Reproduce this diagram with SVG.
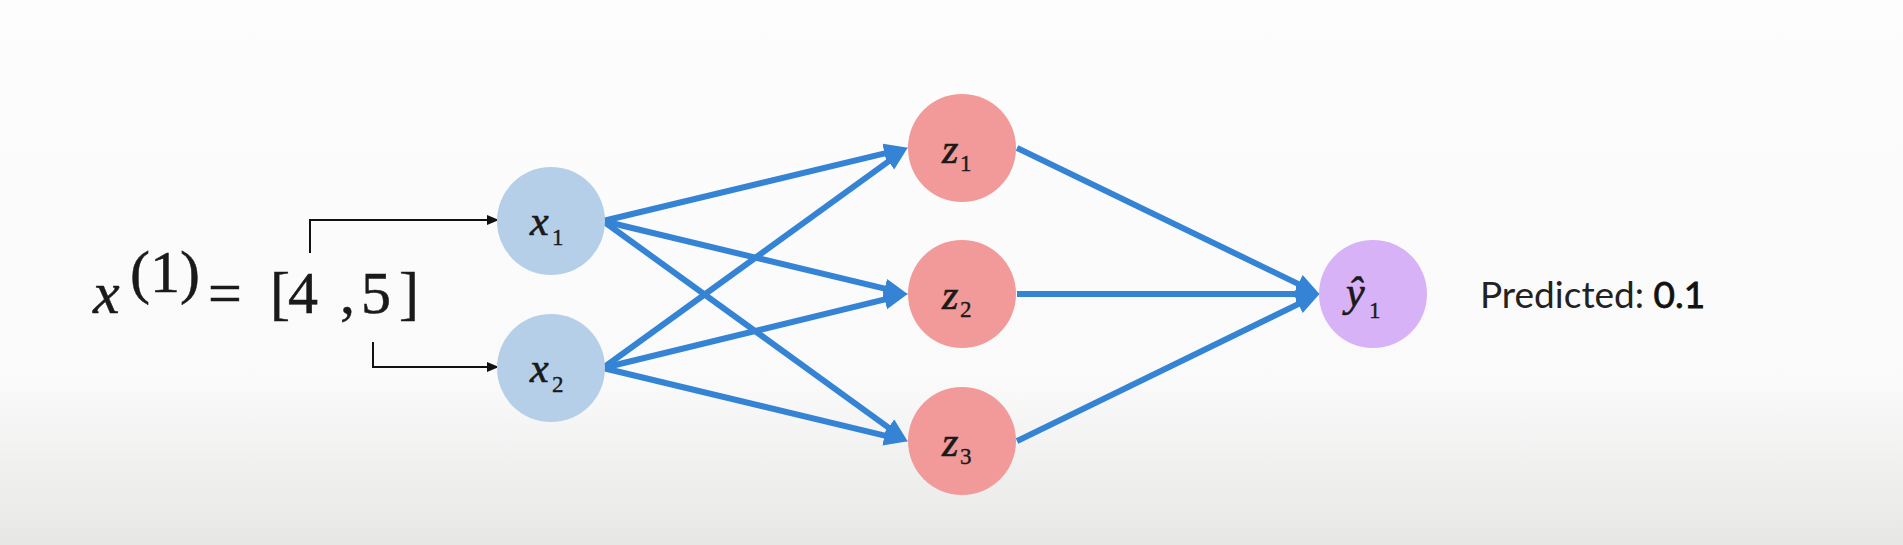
<svg xmlns="http://www.w3.org/2000/svg" width="1903" height="545" viewBox="0 0 1903 545">
<defs>
<linearGradient id="bg" x1="0" y1="0" x2="0" y2="545" gradientUnits="userSpaceOnUse">
<stop offset="0" stop-color="#fcfdfc"/>
<stop offset="0.7" stop-color="#f9faf9"/>
<stop offset="1" stop-color="#e7e8e6"/>
</linearGradient>
<marker id="ab" markerUnits="userSpaceOnUse" markerWidth="26" markerHeight="22" refX="13" refY="10" orient="auto">
<path d="M0,0 L24,10 L0,20 z" fill="#3583d4"/>
</marker>
<marker id="ak" markerUnits="userSpaceOnUse" markerWidth="14" markerHeight="12" refX="4" refY="5" orient="auto">
<path d="M0,0 L12,5 L0,10 z" fill="#111"/>
</marker>
</defs>
<style>
.edge{stroke:#3583d4;stroke-width:6;fill:none;marker-end:url(#ab)}
.feed{stroke:#111;stroke-width:2;fill:none;marker-end:url(#ak)}
.xn{fill:#b5cfe9}
.zn{fill:#f19a99}
.yn{fill:#d8b2f6}
.lab{font-family:"Liberation Serif",serif;font-style:italic;font-size:42px;fill:#1a1a1a;stroke:#1a1a1a;stroke-width:0.7}
.sub{font-family:"Liberation Serif",serif;font-style:normal;font-size:23px;fill:#1a1a1a;stroke:#1a1a1a;stroke-width:0.4}
.math{font-family:"Liberation Serif",serif;font-size:60px;fill:#1a1a1a;stroke:#1a1a1a;stroke-width:0.5}
.pred{font-family:Lato,"Liberation Sans",sans-serif;font-size:37px;fill:#222}
</style>
<rect x="0" y="0" width="1903" height="545" fill="url(#bg)"/>

<g id="connectors">
<path class="feed" d="M310,253 V220 H491"/>
<path class="feed" d="M373,342 V367 H491"/>
<line class="edge" x1="603" y1="221" x2="897.3" y2="150.3"/>
<line class="edge" x1="603" y1="221" x2="897.3" y2="291.7"/>
<line class="edge" x1="603" y1="221" x2="898.9" y2="435.1"/>
<line class="edge" x1="603" y1="368" x2="898.9" y2="153.9"/>
<line class="edge" x1="603" y1="368" x2="897.3" y2="296.4"/>
<line class="edge" x1="603" y1="368" x2="897.3" y2="438.7"/>
<line class="edge" x1="1017" y1="148" x2="1310" y2="289.6"/>
<line class="edge" x1="1017" y1="294" x2="1309" y2="294"/>
<line class="edge" x1="1017" y1="441" x2="1310" y2="298.4"/>
</g>

<g id="formula">
<text class="math" x="93" y="313" font-style="italic">x</text>
<text class="math" x="130" y="292" font-size="44">(1)</text>
<text class="math" x="208" y="313">=</text>
<text class="math" x="270 288 340 361 399" y="313">[4,5]</text>
</g>

<g id="x1">
<circle class="xn" cx="551" cy="221" r="54"/>
<text class="lab" x="530" y="235">x</text><text class="sub" x="552" y="245">1</text>
</g>
<g id="x2">
<circle class="xn" cx="551" cy="368" r="54"/>
<text class="lab" x="530" y="382">x</text><text class="sub" x="552" y="392">2</text>
</g>
<g id="z1">
<circle class="zn" cx="962" cy="148" r="54"/>
<text class="lab" x="942" y="163" font-size="38">z</text><text class="sub" x="960" y="171">1</text>
</g>
<g id="z2">
<circle class="zn" cx="962" cy="294" r="54"/>
<text class="lab" x="942" y="309" font-size="38">z</text><text class="sub" x="960" y="317">2</text>
</g>
<g id="z3">
<circle class="zn" cx="962" cy="441" r="54"/>
<text class="lab" x="942" y="456" font-size="38">z</text><text class="sub" x="960" y="464">3</text>
</g>
<g id="y1">
<circle class="yn" cx="1373" cy="294" r="54"/>
<text class="lab" x="1346" y="306">ŷ</text><text class="sub" x="1369" y="318">1</text>
</g>
<g id="predicted">
<text class="pred" x="1480" y="308">Predicted: <tspan fill="#111" stroke="#111" stroke-width="0.8">0.1</tspan></text>
</g>
</svg>
